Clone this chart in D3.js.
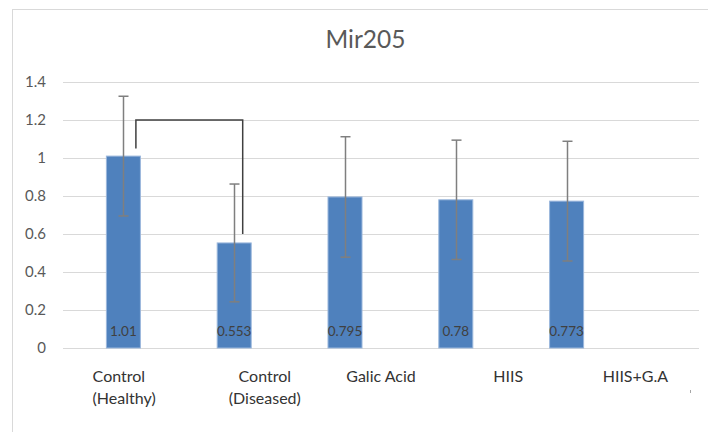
<!doctype html>
<html lang="en">
<head>
  <meta charset="utf-8">
  <title>Mir205</title>
  <style>
    * { margin: 0; padding: 0; box-sizing: border-box; }
    body { background: #fff; }
    #container { width: 708px; height: 432px; }
    text { font-family: Lato, "Open Sans", sans-serif; }
  </style>
</head>
<body>
  <div id="container"></div>
  <script src="https://cdn.jsdelivr.net/npm/d3@7"></script>
  <script>
    const categories = [['Control', '(Healthy)'], ['Control', '(Diseased)'], ['Galic Acid'], ['HIIS'], ['HIIS+G.A']];
    const catKeys = ['Control (Healthy)', 'Control (Diseased)', 'Galic Acid', 'HIIS', 'HIIS+G.A'];
    const values = [1.01, 0.553, 0.795, 0.78, 0.773];
    const errors = [0.315, 0.31, 0.317, 0.314, 0.315];
    const yTicks = [0, 0.2, 0.4, 0.6, 0.8, 1, 1.2, 1.4];
    // significance bracket between the two controls: [category, value]
    const bracket = [[0, 1.05], [0, 1.2], [1, 1.2], [1, 0.6]];

    const svgDim = {w: 708, h: 432};
    const plot = {left: 63, right: 699, top: 82, bottom: 348};

    const svg = d3.select('#container').append('svg')
      .attr('width', svgDim.w)
      .attr('height', svgDim.h);

    // outer chart frame (runs off the page to the right / bottom)
    svg.append('rect')
      .attr('x', 12.5).attr('y', 9.5)
      .attr('width', 720).attr('height', 440)
      .attr('fill', '#fff')
      .attr('stroke', '#d9d9d9');

    const y = d3.scaleLinear().domain([0, 1.4]).range([plot.bottom, plot.top]);

    // category labels sit on the full plot width, bars a bit narrower
    const xLabel = d3.scaleBand().domain(catKeys).range([plot.left, plot.right]);
    const xBar = d3.scaleBand().domain(catKeys).range([68, 622])
      .paddingInner(0.684).paddingOuter(0.342);

    svg.append('text')
      .attr('x', 365.5).attr('y', 48)
      .attr('text-anchor', 'middle')
      .attr('fill', '#595959')
      .style('font-size', '24.5px')
      .text('Mir205');

    // gridlines
    svg.append('g').selectAll('line').data(yTicks).join('line')
      .attr('x1', plot.left).attr('x2', plot.right)
      .attr('y1', d => Math.round(y(d)) + 0.5).attr('y2', d => Math.round(y(d)) + 0.5)
      .attr('stroke', '#d9d9d9');

    // y axis labels
    const yAxis = d3.axisLeft(y).tickValues(yTicks).tickSize(0).tickPadding(0)
      .tickFormat(d => d3.format('')(+d.toFixed(1)));
    const gy = svg.append('g').attr('transform', 'translate(46,0)').call(yAxis);
    gy.select('.domain').remove();
    gy.selectAll('text')
      .attr('fill', '#595959')
      .style('font-size', '15px')
      .style('font-family', 'Lato, sans-serif');

    const data = catKeys.map((k, i) => ({key: k, value: values[i], err: errors[i], label: categories[i]}));

    // bars
    svg.append('g').selectAll('rect').data(data).join('rect')
      .attr('x', d => xBar(d.key) + 0.5)
      .attr('y', d => y(d.value))
      .attr('width', xBar.bandwidth() - 1)
      .attr('height', d => y(0) - y(d.value))
      .attr('fill', '#4f81bd')
      .attr('stroke', '#9bb7dc')
      .attr('stroke-width', 1);

    // error bars
    const eb = svg.append('g').selectAll('g').data(data).join('g')
      .attr('stroke', '#7f7f7f').attr('stroke-width', 1.5);
    const cx = d => Math.round(xBar(d.key) + xBar.bandwidth() / 2) + 0.5;
    eb.append('line')
      .attr('x1', cx).attr('x2', cx)
      .attr('y1', d => y(d.value + d.err)).attr('y2', d => y(d.value - d.err));
    eb.append('line')
      .attr('x1', d => cx(d) - 5).attr('x2', d => cx(d) + 5)
      .attr('y1', d => y(d.value + d.err)).attr('y2', d => y(d.value + d.err));
    eb.append('line')
      .attr('x1', d => cx(d) - 5).attr('x2', d => cx(d) + 5)
      .attr('y1', d => y(d.value - d.err)).attr('y2', d => y(d.value - d.err));

    // data labels
    svg.append('g').selectAll('text').data(data).join('text')
      .attr('x', d => xBar(d.key) + xBar.bandwidth() / 2)
      .attr('y', 336)
      .attr('text-anchor', 'middle')
      .attr('fill', '#404040')
      .style('font-size', '13.5px')
      .text(d => d.value);

    // category labels (first one is left-aligned, second nudged right, as in the original)
    const cl = svg.append('g').selectAll('text').data(data).join('text')
      .attr('fill', '#333')
      .style('font-size', '16px')
      .attr('text-anchor', (d, i) => i === 0 ? 'start' : 'middle')
      .attr('transform', (d, i) => {
        const c = xLabel(d.key) + xLabel.bandwidth() / 2;
        const w = i === 0 ? c - 34 : i === 1 ? c + 11 : c;
        return `translate(${w},382)`;
      });
    cl.selectAll('tspan').data(d => d.label).join('tspan')
      .attr('x', 0)
      .attr('dy', (d, i) => i ? 22 : 0)
      .text(d => d);

    // significance bracket
    const bx = c => xBar(catKeys[c]) + xBar.bandwidth() / 2 + (c === 0 ? 12.5 : 8.5);
    svg.append('path')
      .datum(bracket)
      .attr('d', d3.line().x(d => bx(d[0])).y(d => y(d[1])))
      .attr('fill', 'none')
      .attr('stroke', '#404040')
      .attr('stroke-width', 1.5);

    // small resize tick at bottom right of the frame
    svg.append('line')
      .attr('x1', 690.5).attr('x2', 690.5).attr('y1', 390).attr('y2', 393)
      .attr('stroke', '#a6a6a6');
  </script>
</body>
</html>
